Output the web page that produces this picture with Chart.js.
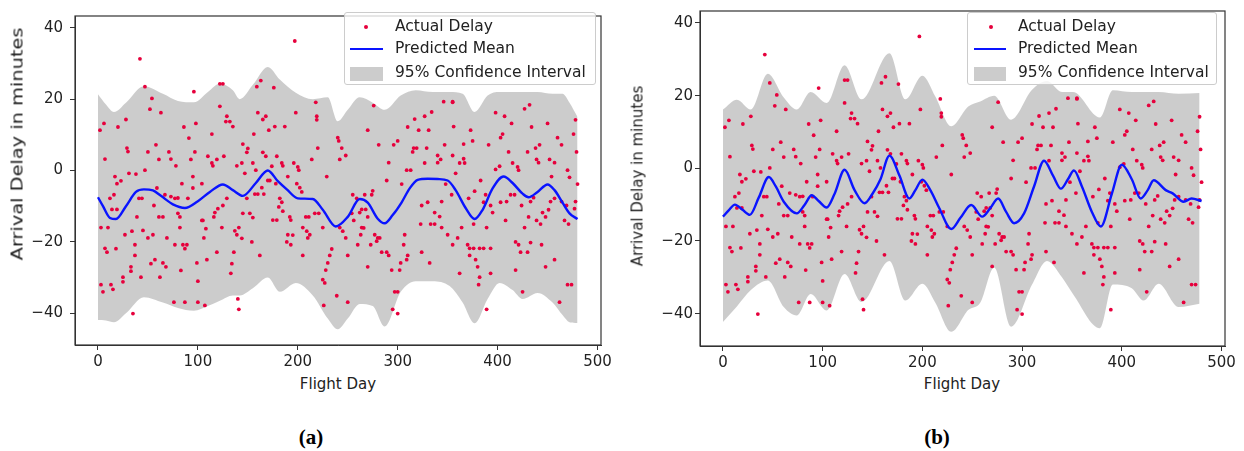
<!DOCTYPE html>
<html>
<head>
<meta charset="utf-8">
<script src="https://cdn.jsdelivr.net/npm/chart.js@4.4.1/dist/chart.umd.min.js"></script>
<style>
  body { margin: 0; background: #fff; }
  #wrap { position: relative; width: 1244px; height: 451px; overflow: hidden;
          font-family: 'DejaVu Sans', sans-serif; color: #222; }
  canvas { position: absolute; top: 0; }
  .lbl { position: absolute; white-space: nowrap; font-size: 15px; line-height: 1;
         transform: translate(-50%, -50%); }
  .cap { font-family: 'Liberation Serif', serif; font-weight: bold; font-size: 21px; color: #000; }
  .legend { position: absolute; box-sizing: border-box; background: rgba(255,255,255,0.8);
            border: 1px solid #ccc; border-radius: 3px; z-index: 2; }
  .legend .row { position: absolute; left: 50px; font-size: 15.5px; line-height: 1;
                 white-space: nowrap; transform: translateY(-50%); }
  .legend .dot { position: absolute; width: 4px; height: 4px; border-radius: 50%;
                 background: #e6003c; transform: translate(-50%, -50%); }
  .legend .ln { position: absolute; height: 2.4px; background: #0a14ff; }
  .legend .patch { position: absolute; background: rgba(128,128,128,0.4); }
</style>
</head>
<body>
<div id="wrap">
  <canvas id="chartA" width="620" height="372" style="left:0px"></canvas>
  <canvas id="chartB" width="624" height="372" style="left:620px"></canvas>

  <div class="lbl" style="left:17.5px;top:144px;transform:translate(-50%,-50%) rotate(-90deg) scaleX(1.29)">Arrival Delay in minutes</div>
  <div class="lbl" style="left:637.5px;top:176px;transform:translate(-50%,-50%) rotate(-90deg)">Arrival Delay in minutes</div>
  <div class="lbl" style="left:338px;top:384px">Flight Day</div>
  <div class="lbl" style="left:962px;top:384px">Flight Day</div>
  <div class="lbl cap" style="left:311px;top:437px">(a)</div>
  <div class="lbl cap" style="left:937px;top:437px">(b)</div>

  <div class="legend" style="left:344px;top:12px;width:252px;height:73px">
    <div class="dot" style="left:21px;top:14px"></div>
    <div class="row" style="top:14px">Actual Delay</div>
    <div class="ln" style="left:4.5px;width:33.5px;top:35px"></div>
    <div class="row" style="top:36px">Predicted Mean</div>
    <div class="patch" style="left:4.5px;width:33.5px;top:54px;height:13.5px"></div>
    <div class="row" style="top:60px">95% Confidence Interval</div>
  </div>
  <div class="legend" style="left:967px;top:12px;width:250px;height:73px">
    <div class="dot" style="left:23px;top:14px"></div>
    <div class="row" style="top:14px">Actual Delay</div>
    <div class="ln" style="left:5.5px;width:32.5px;top:35px"></div>
    <div class="row" style="top:36px">Predicted Mean</div>
    <div class="patch" style="left:5.5px;width:32.5px;top:54px;height:13.5px"></div>
    <div class="row" style="top:60px">95% Confidence Interval</div>
  </div>
</div>

<script>
'use strict';

// --- tick labels / ranges ---
const xTicks = [0, 100, 200, 300, 400, 500];
const yTicks = [-40, -20, 0, 20, 40];
const xRange = [-23, 503.5];
const yRange = [-48.9, 43.3];

// --- Actual Delay (same points in both panels) ---
const actualDay = [
  42, 96, 47, 54, 52, 63, 28, 6, 2, 20,
  86, 98, 91, 58, 29, 30, 50, 71, 97, 7,
  61, 73, 78, 93, 47, 38, 31, 17, 95, 84,
  19, 23, 104, 59, 95, 16, 12, 41, 44, 67,
  73, 77, 80, 90, 14, 19, 56, 80, 82, 61,
  65, 39, 104, 3, 10, 27, 34, 45, 82, 50,
  55, 69, 106, 7, 9, 18, 37, 77, 85, 89,
  87, 37, 57, 53, 65, 68, 33, 33, 99, 83,
  25, 25, 43, 62, 100, 3, 5, 13, 15, 76,
  87, 100, 107, 35,
  197, 122, 125, 163, 159, 176, 122, 218, 129, 132,
  128, 135, 160, 165, 168, 198, 219, 219, 171, 177,
  187, 114, 156, 145, 150, 149, 165, 168, 220, 110,
  114, 115, 126, 119, 179, 184, 185, 196, 200, 201,
  214, 144, 139, 155, 158, 147, 174, 190, 229, 170,
  172, 178, 199, 202, 204, 164, 166, 160, 157, 149,
  182, 184, 129, 125, 120, 117, 116, 181, 185, 145,
  152, 155, 175, 179, 192, 193, 208, 211, 217, 221,
  105, 108, 124, 141, 137, 139, 144, 205, 209, 212,
  210, 190, 195, 189, 193, 225, 154, 119, 109, 136,
  134, 133, 162, 205, 230, 228, 225, 227, 140, 141,
  226,
  276, 317, 327, 334, 346, 355, 310, 321, 331, 270,
  240, 241, 300, 296, 281, 316, 319, 315, 329, 347,
  244, 248, 242, 340, 343, 340, 355, 291, 327, 309,
  313, 289, 304, 348, 275, 274, 255, 267, 259, 324,
  330, 344, 264, 268, 262, 337, 342, 254, 256, 270,
  323, 333, 337, 344, 242, 245, 248, 264, 266, 263,
  277, 280, 282, 279, 307, 350, 355, 260, 273, 306,
  234, 232, 250, 284, 289, 291, 324, 310, 309, 303,
  270, 294, 302, 332, 239, 250, 297, 300, 295, 300,
  355, 432, 427, 398, 407, 414, 450, 478, 434, 373,
  356, 405, 403, 460, 464, 375, 366, 391, 442, 438,
  476, 411, 430, 452, 457, 366, 367, 362, 415, 420,
  421, 439, 441, 470, 479, 358, 402, 398, 383, 472,
  454, 480, 377, 354, 371, 388, 386, 413, 417, 436,
  433, 457, 393, 395, 403, 409, 424, 453, 451, 464,
  469, 478, 477, 408, 439, 443, 448, 445, 467, 471,
  431, 376, 364, 389, 427, 360, 418, 421, 423, 430,
  433, 370, 372, 376, 382, 386, 393, 444, 372, 378,
  380, 457, 418, 448, 362, 393, 382, 381, 470, 474,
  425, 462, 389
];
const actualDelay = [
  31.3, 22.1, 23.5, 20.2, 17.2, 16.2, 14.3, 13.2, 11.3, 12.2,
  12.2, 13.2, 9.1, 7.2, 6.3, 5.3, 5.2, 5.2, 5.2, 3.2,
  3.1, 3.2, 1.3, 3.1, 0.1, -1, -0.8, -1.7, -1.7, -3.7,
  -3.7, -2.9, -3.7, -4.9, -4.9, -6.8, -7.8, -7.8, -7.8, -6.8,
  -7.3, -7.8, -7.7, -7.8, -10.9, -10.9, -9.8, -12, -13, -13,
  -13, -13, -14, -16, -16, -18, -17, -16.8, -16, -18.9,
  -18, -18.9, -18.9, -21.8, -22.9, -21.9, -20.8, -20.8, -20.8, -20.8,
  -21.9, -23.8, -25, -26.1, -25.9, -27, -27, -28.2, -25.9, -28,
  -29.9, -31.2, -29.9, -29.9, -31, -32, -34, -32, -33.3, -36.9,
  -36.9, -36.9, -37.8, -40.1,
  36.3, 24.3, 24.3, 25.2, 23.5, 23.2, 18, 19.1, 15.2, 13.7,
  13.7, 12.3, 16.2, 14.3, 15.2, 16.2, 15.2, 14.2, 11.3, 12.3,
  12.3, 10.2, 10.2, 7.4, 6.2, 5.1, 5.1, 4, 6.3, 4,
  2.1, 1.3, 4, 3.1, 4, 2.1, 1.3, 2.1, 1, 0.1,
  3.1, 2.1, 1.3, 2.1, 0.1, -0.8, 1.2, -1.7, -1.7, -2.8,
  -2.8, -3.7, -3.7, -4.8, -6, -4.8, -6.6, -6.6, -6.6, -7.8,
  -7.8, -8.9, -7.8, -9.8, -10.7, -11.8, -13, -10.2, -11.4, -12,
  -12, -13.2, -13.9, -13.9, -13, -13.9, -13, -13, -12, -12,
  -14, -16.3, -16, -16, -16.9, -18, -19, -16, -17, -18,
  -18.9, -18, -18.1, -20, -20.8, -16, -20, -22.9, -25, -22.9,
  -26.1, -28.8, -23.8, -23.8, -25.9, -27.9, -30.6, -31.5, -36, -38.9,
  -37.8,
  18.2, 14.4, 15.2, 16.4, 19.3, 19.3, 12.2, 11.3, 11.3, 11.3,
  9.2, 8.3, 8.3, 7.2, 7.2, 6.3, 6.3, 5.2, 6.3, 7.2,
  6.3, 4.2, 3.1, 4.2, 3.1, 2.2, 4.2, 2.2, 2.1, 0.1,
  0.1, -2.8, -3.8, -3.8, -5.7, -6.8, -6.8, -6.8, -7.8, -9.8,
  -8.9, -8.7, -10.9, -10.9, -11.8, -11.8, -12.9, -12, -14, -13,
  -15, -15, -15, -16, -16, -17, -18.9, -16, -16.1, -18,
  -18, -18.9, -18.9, -19.8, -18, -18, -20.8, -20.8, -20.8, -20.8,
  -22, -23.8, -23.8, -22.9, -22.9, -23.8, -22.9, -23.8, -25, -25.9,
  -27, -27.9, -27.9, -25.9, -35.1, -36.9, -34, -34, -38.9, -40.1,
  19.1, 18.4, 17.3, 16.2, 15.2, 13.2, 13.2, 14.2, 12.2, 11.3,
  12.3, 10.2, 9.2, 9.2, 7.2, 8.3, 7.4, 7.2, 7.2, 6.3,
  10.2, 5.2, 5.2, 3.1, 2.2, 3.3, 2.1, 2.1, 2.1, 1,
  0.1, 3.1, 2.2, 0.1, 5.2, -0.8, 1.2, 0.3, -2.8, -1.9,
  -1.7, -3.8, -5.8, -6.8, -7.8, -6.8, -8.9, -6.8, -6.8, -7.6,
  -8.7, -7.8, -9.8, -11.8, -8.9, -8.7, -9.8, -8.7, -11, -8.7,
  -9.8, -8.7, -10.7, -14, -14, -15, -13, -11.8, -14, -15,
  -13, -15, -16, -16, -16, -18.9, -20, -20.8, -22.9, -22.9,
  -20.2, -20.8, -21.8, -21.8, -21.8, -21.8, -21.8, -20.8, -23.8, -25,
  -27, -25, -27.9, -27, -28.8, -28.8, -29.9, -32, -32, -32,
  -34, -36.9, -38.9
];

// --- Panel (a): predicted mean + 95% band ---
const meanDayA = [0, 5, 12, 18, 28, 38, 46, 55, 63, 75, 87, 100, 112, 125, 135, 145, 158, 170, 180, 189,
  200, 215, 225, 238, 250, 262, 270, 280, 287, 295, 304, 312, 320, 330, 340, 350, 358, 368, 377, 385,
  395, 406, 415, 425, 431, 440, 450, 457, 465, 472, 480];
const meanA = [-7.5, -10, -13.3, -13.6, -10, -6, -5.3, -5.6, -7.1, -9.5, -10.5, -8.6, -6, -3.9, -5.5, -7.1, -3.5, 0, -3, -5.3,
  -7.8, -8, -11, -15.7, -13, -8, -9, -13.5, -14.8, -12.5, -8.9, -5, -2.6, -2.3, -2.4, -2.8, -5.5, -10.5, -13.6, -11,
  -5, -1.7, -3.5, -6.5, -7.5, -6, -3.9, -5.5, -9, -12, -13.6];
const bandDayA = [0, 8, 16, 28, 46, 65, 80, 96, 110, 122, 135, 142, 155, 170, 182, 198, 215, 230, 240, 250,
  262, 275, 287, 303, 318, 335, 352, 365, 377, 390, 402, 415, 425, 440, 455, 465, 472, 480];
const upperA = [21.4, 18.5, 16.4, 19, 23.6, 21.5, 19.5, 19.1, 22, 24.4, 22.5, 20, 24, 29, 25.5, 21.8, 20, 20.5, 13.8, 17,
  20.5, 19, 17, 21, 22.5, 22, 22, 21.5, 16.4, 21, 22, 22, 22, 22, 21.5, 21.5, 19, 15];
const lowerA = [-41.9, -42, -42.5, -40, -35.5, -37, -38.5, -39.3, -38, -36.5, -35, -35, -33, -30, -34, -31.5, -35, -41.5, -44.5, -41.5,
  -37.4, -38, -43.7, -34, -31, -31, -32.4, -37, -42.8, -36, -31.5, -33.5, -36, -34.3, -37, -40.5, -42.5, -42.7];

// --- Panel (b): predicted mean + 95% band ---
const meanDayB = [0, 6, 12, 20, 27, 36, 46, 53, 61, 74, 82, 89, 96, 104, 112, 122, 132, 142, 150, 158,
  167, 177, 187, 193, 200, 208, 217, 229, 238, 249, 260, 268, 276, 284, 292, 302, 312, 322, 331, 339,
  346, 352, 360, 370, 379, 390, 400, 410, 419, 426, 432, 444, 451, 462, 470, 480];
const meanB = [-13.3, -11.5, -10, -11.5, -12.8, -8, -2.4, -5, -9.2, -12.4, -10, -7.4, -9, -10.8, -7, -0.4, -6, -9.6, -7, -3,
  3.5, -2, -8.3, -6, -3.1, -6, -11, -16.7, -13.7, -10.1, -13.3, -11, -8.3, -12, -15.1, -12.4, -5, 2.1, -2, -5.6,
  -3, -0.6, -5, -12, -16, -7, 1, -3, -8.3, -6, -3.3, -6, -6.9, -9.2, -8.3, -9];
const bandDayB = [0, 14, 28, 45, 61, 74, 88, 104, 122, 139, 167, 183, 200, 213, 229, 246, 258, 272, 289, 310,
  325, 340, 351, 378, 391, 410, 422, 437, 457, 478];
const upperB = [16.2, 18.9, 16.2, 26, 19.5, 16.2, 21, 18, 28.4, 19, 31.7, 19, 25.5, 19.8, 11.6, 17, 18.4, 20, 13.4, 21.6,
  24, 21, 21, 14, 21.5, 21, 21, 21, 20.5, 20.7];
const lowerB = [-42.3, -38, -33.5, -30.9, -38.2, -40.5, -34.6, -39.1, -29.1, -36.8, -25.5, -36.4, -31.8, -37, -45, -39, -37, -27.3, -43.6, -32,
  -25.5, -30, -34.6, -44, -32, -33, -36.4, -31.8, -38.2, -37.3];

const pts = (xs, ys) => xs.map((x, i) => ({ x: x, y: ys[i] }));
const minus = v => (v < 0 ? '\u2212' + Math.abs(v) : String(v));

// kotak sumbu penuh (gaya matplotlib)
const framePlugin = {
  id: 'frame',
  afterDraw(chart) {
    const { ctx, chartArea: a } = chart;
    ctx.save();
    ctx.strokeStyle = '#333';
    ctx.lineWidth = 1.2;
    ctx.strokeRect(a.left, a.top, a.right - a.left, a.bottom - a.top);
    ctx.restore();
  }
};

function gpChart(id, meanDay, mean, bandDay, upper, lower, box) {
  const el = document.getElementById(id);
  const tickFont = { family: "'DejaVu Sans', sans-serif", size: 15 };
  return new Chart(el.getContext('2d'), {
    type: 'line',
    data: {
      datasets: [
        {
          label: 'Predicted Mean',
          data: pts(meanDay, mean),
          borderColor: '#0a14ff',
          borderWidth: 2.4,
          pointRadius: 0,
          cubicInterpolationMode: 'monotone',
          fill: false,
          order: 0,
        },
        {
          type: 'scatter',
          label: 'Actual Delay',
          data: pts(actualDay, actualDelay),
          backgroundColor: '#e6003c',
          borderColor: '#e6003c',
          borderWidth: 0,
          pointRadius: 1.9,
          order: 1,
        },
        {
          label: 'upper',
          data: pts(bandDay, upper),
          borderColor: 'transparent',
          backgroundColor: 'rgba(128,128,128,0.4)',
          pointRadius: 0,
          cubicInterpolationMode: 'monotone',
          fill: '+1',
          order: 2,
        },
        {
          label: 'lower',
          data: pts(bandDay, lower),
          borderColor: 'transparent',
          pointRadius: 0,
          cubicInterpolationMode: 'monotone',
          fill: false,
          order: 3,
        },
      ],
    },
    options: {
      responsive: false,
      animation: false,
      devicePixelRatio: 1,
      layout: { padding: { top: box.top, right: box.right, left: 0, bottom: 0 } },
      plugins: { legend: { display: false }, tooltip: { enabled: false } },
      scales: {
        x: {
          type: 'linear',
          min: xRange[0],
          max: xRange[1],
          afterBuildTicks: s => { s.ticks = xTicks.map(v => ({ value: v })); },
          afterFit: s => { s.height = box.xh; },
          grid: { drawOnChartArea: false, tickLength: 5, color: '#333' },
          border: { color: '#333' },
          ticks: { color: '#222', font: tickFont, padding: 3, maxRotation: 0, autoSkip: false, callback: minus },
        },
        y: {
          min: yRange[0],
          max: yRange[1],
          afterBuildTicks: s => { s.ticks = yTicks.map(v => ({ value: v })); },
          afterFit: s => { s.width = box.yw; },
          grid: { drawOnChartArea: false, tickLength: 5, color: '#333' },
          border: { color: '#333' },
          ticks: { color: '#222', font: tickFont, padding: box.yPad, autoSkip: false, callback: minus },
        },
      },
    },
    plugins: [framePlugin],
  });
}

gpChart('chartA', meanDayA, meanA, bandDayA, upperA, lowerA, { top: 6, right: 19, yw: 75, xh: 27, yPad: 7 });
gpChart('chartB', meanDayB, meanB, bandDayB, upperB, lowerB, { top: 5, right: 19, yw: 80, xh: 26, yPad: 2 });
</script>
</body>
</html>
